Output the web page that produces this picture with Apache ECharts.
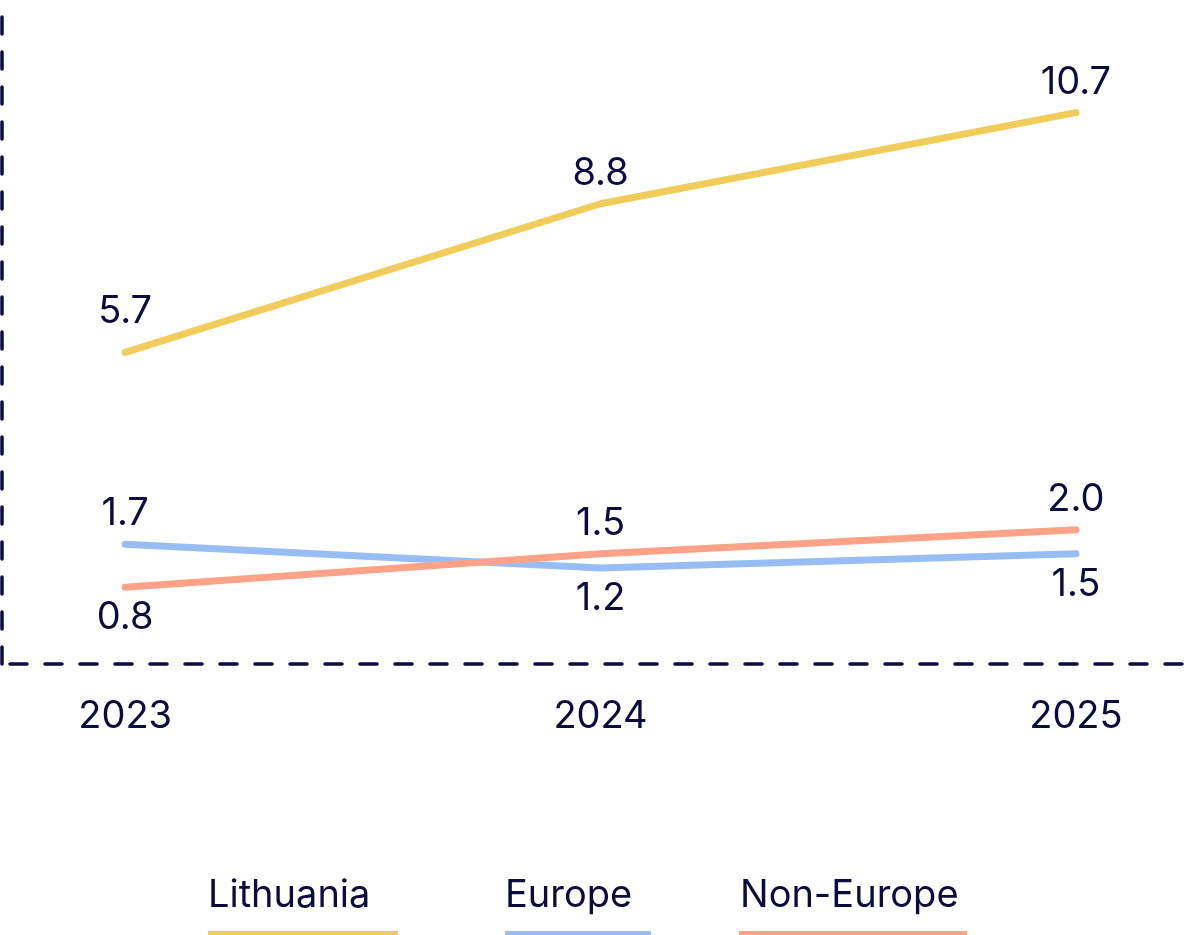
<!DOCTYPE html>
<html>
<head>
<meta charset="utf-8">
<script src="https://cdn.jsdelivr.net/npm/echarts@6/dist/echarts.min.js"></script>
<style>
  html, body { margin: 0; padding: 0; background: #fff; }
  #chart { width: 1200px; height: 935px; }
</style>
</head>
<body>
<div id="chart"></div>
<script>
// data
const years = [2023, 2024, 2025];
const lithuania = [5.7, 8.8, 10.7];
const europe = [1.7, 1.2, 1.5];
const nonEurope = [0.8, 1.5, 2.0];

const NAVY = '#0b0b3f';
const FONT = 'Inter, "Noto Sans", sans-serif';
const FSIZE = 38;

// name, values, colour, where each point's label sits
const seriesDefs = [
  { name: 'Lithuania', values: lithuania, color: '#f0cd5a', pos: ['top', 'top', 'top'] },
  { name: 'Europe', values: europe, color: '#98bdf4', pos: ['top', 'bottom', 'bottom'] },
  { name: 'Non-Europe', values: nonEurope, color: '#ffa288', pos: ['bottom', 'top', 'top'] }
];

// legend placement: text x, underline x and width
const legendPlace = [
  { textX: 208, lineX: 208, lineW: 190 },
  { textX: 505, lineX: 505, lineW: 146 },
  { textX: 740, lineX: 739, lineW: 228 }
];

const chart = echarts.init(document.getElementById('chart'));

const series = seriesDefs.map(s => ({
  name: s.name,
  type: 'line',
  color: s.color,
  symbol: 'circle',
  symbolSize: 1,
  lineStyle: { width: 7, color: s.color, cap: 'round', join: 'round' },
  itemStyle: { color: s.color },
  data: s.values.map((v, i) => ({
    value: [years[i], v],
    label: {
      position: s.pos[i],
      offset: (s.name === 'Lithuania' && i === 0) ? [0, -10] : [0, 0]
    }
  })),
  label: {
    show: true,
    distance: 11,
    color: NAVY,
    fontFamily: FONT,
    fontWeight: 400,
    fontSize: FSIZE,
    formatter: p => p.value[1].toFixed(1)
  }
}));

const legends = [];
seriesDefs.forEach((s, i) => {
  const p = legendPlace[i];
  legends.push({
    data: [{ name: s.name, icon: 'none' }],
    left: p.textX - 5,
    top: 877,
    itemWidth: 0,
    itemHeight: 0,
    padding: 0,
    selectedMode: false,
    textStyle: { color: NAVY, fontFamily: FONT, fontWeight: 400, fontSize: FSIZE, lineHeight: 38 }
  });
  legends.push({
    data: [{ name: s.name, icon: 'rect' }],
    left: p.lineX,
    top: 931,
    itemWidth: p.lineW,
    itemHeight: 4,
    padding: 0,
    selectedMode: false,
    formatter: () => '',
    itemStyle: { borderWidth: 0 },
    textStyle: { fontSize: 1, lineHeight: 4 }
  });
});

const option = {
  animation: false,
  backgroundColor: '#fff',
  grid: { left: 2, right: 0, top: 0, bottom: 271 },
  xAxis: {
    type: 'value',
    min: 2022.741,
    max: 2025.261,
    splitLine: { show: false },
    axisTick: { show: false },
    axisLine: {
      show: true,
      onZero: false,
      lineStyle: { color: NAVY, width: 3.5, type: [17, 18], dashOffset: -8 }
    },
    axisLabel: {
      customValues: years,
      margin: 34,
      color: NAVY,
      fontFamily: FONT,
      fontWeight: 400,
      fontSize: FSIZE,
      formatter: v => String(v)
    }
  },
  yAxis: {
    type: 'value',
    min: -0.8,
    max: 13.05,
    splitLine: { show: false },
    axisTick: { show: false },
    axisLabel: { show: false },
    axisLine: {
      show: true,
      onZero: false,
      lineStyle: { color: NAVY, width: 3.5, type: [17, 18] }
    }
  },
  legend: legends,
  series: series
};

chart.setOption(option);
</script>
</body>
</html>
